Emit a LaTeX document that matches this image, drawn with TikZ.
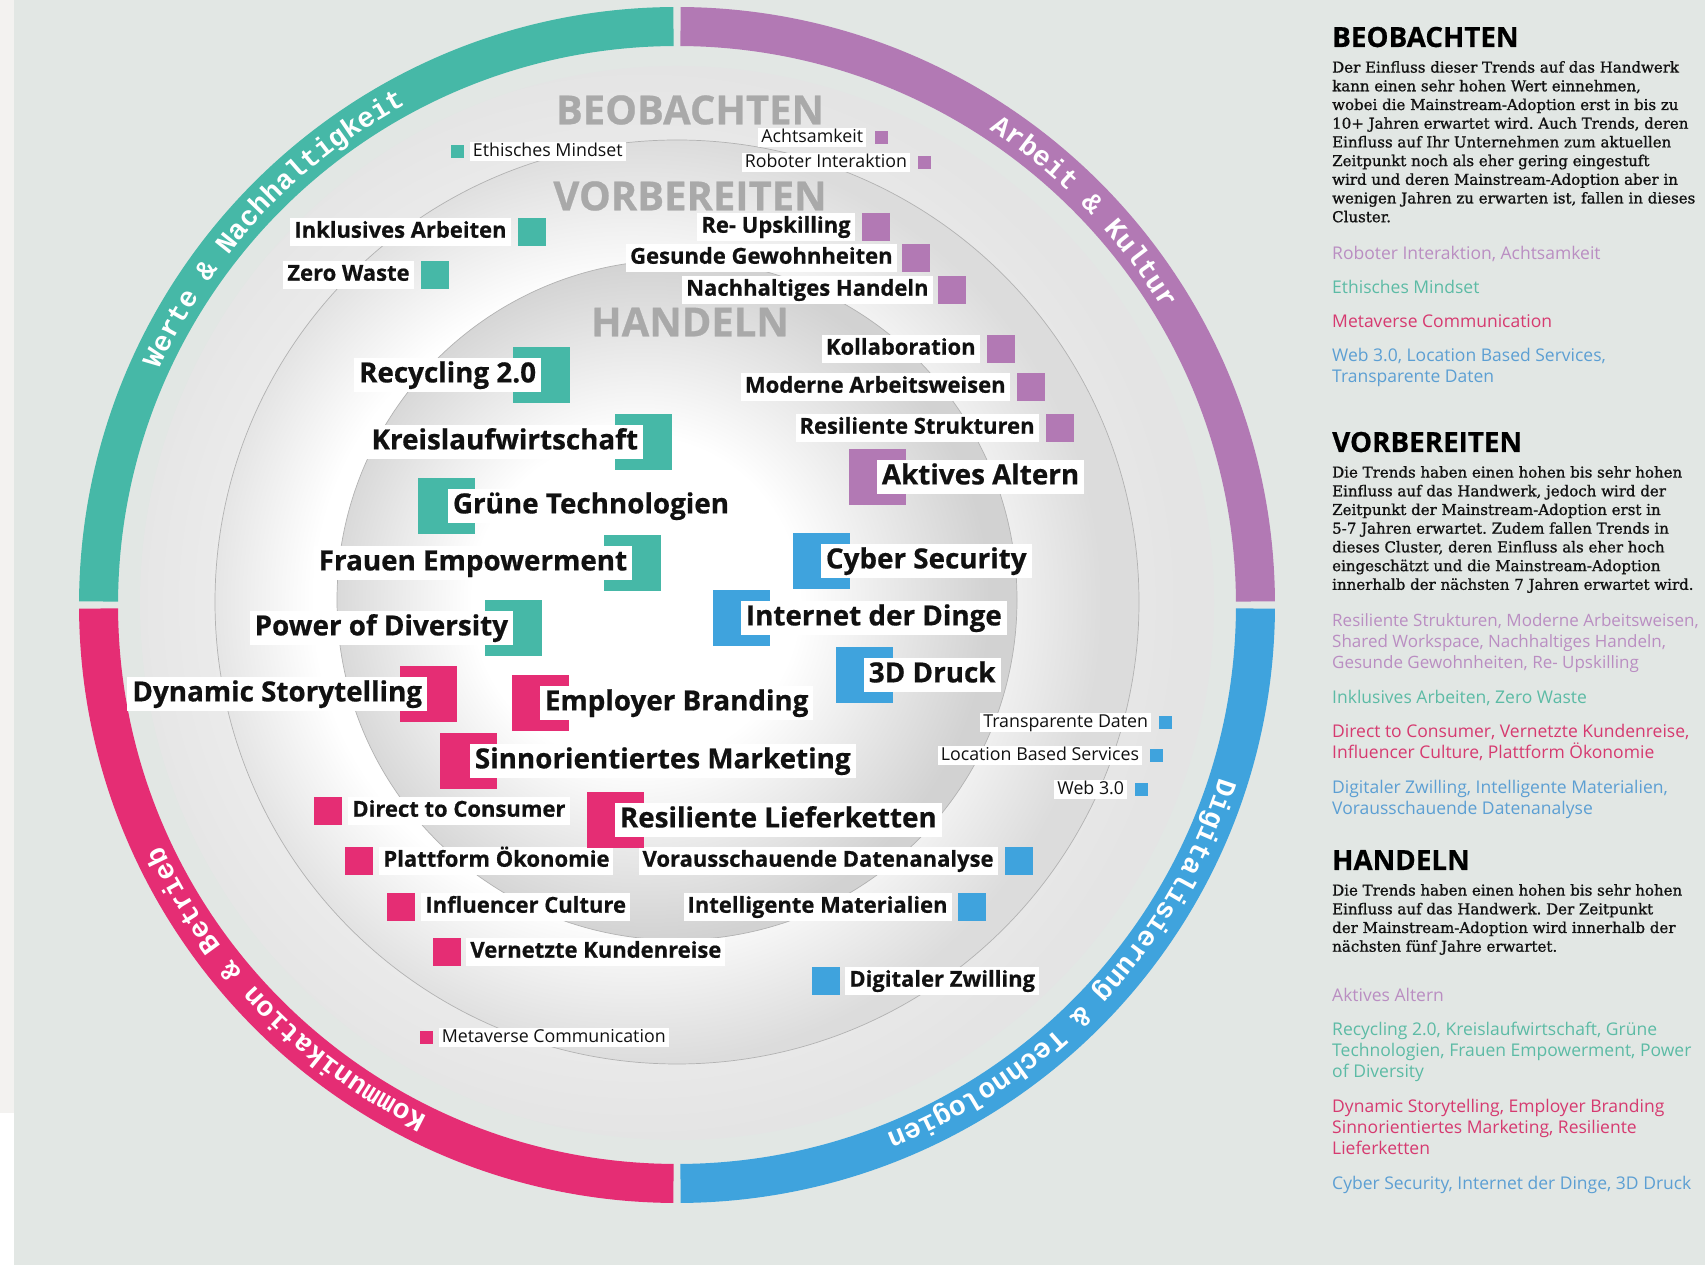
\documentclass[tikz,border=0pt]{standalone}
\usepackage{fontspec}
\setmainfont{Open Sans}
\newfontfamily\heavysans[BoldFeatures={FakeBold=0.6}]{Open Sans}
\newfontfamily\bodyserif[FakeBold=1]{DejaVu Serif}
\newfontfamily\ringmono{Liberation Mono}
\usetikzlibrary{positioning,decorations.text}
\frenchspacing

\definecolor{bgc}{HTML}{E2E7E4}
\definecolor{stripc}{HTML}{F3F2F0}
\definecolor{cgreen}{HTML}{46B8A7}
\definecolor{cviolet}{HTML}{B279B4}
\definecolor{cpink}{HTML}{E52D74}
\definecolor{cblue}{HTML}{3FA3DD}
\definecolor{lgreen}{HTML}{5CBBA5}
\definecolor{lviolet}{HTML}{BA8EC2}
\definecolor{lpink}{HTML}{D63A70}
\definecolor{lblue}{HTML}{5C9FD3}
\definecolor{inkc}{HTML}{111111}
\definecolor{headgray}{HTML}{A9A9A9}
\definecolor{rimB}{HTML}{E4E4E4}
\definecolor{midB}{HTML}{EDEDED}
\definecolor{rimV}{HTML}{DCDCDC}
\definecolor{rimH}{HTML}{D2D2D2}

\pgfdeclareradialshading{beobshade}{\pgfpoint{-3bp}{0bp}}{color(0bp)=(white); color(18bp)=(midB); color(25bp)=(rimB); color(50bp)=(rimB)}
\pgfdeclareradialshading{vorbshade}{\pgfpoint{-4bp}{0bp}}{color(0bp)=(white); color(17bp)=(white); color(25bp)=(rimV); color(50bp)=(rimV)}
\pgfdeclareradialshading{handshade}{\pgfpoint{-4bp}{0bp}}{color(0bp)=(white); color(12bp)=(white); color(25bp)=(rimH); color(50bp)=(rimH)}

\newcommand{\ringfont}{\ringmono\bfseries\fontsize{28}{28}\selectfont}

\begin{document}
\begin{tikzpicture}[x=1pt,y=1pt,
lblbig/.style={fill=white,inner xsep=5pt,inner ysep=3pt,text height=21.5pt,text depth=6.7pt,font=\heavysans\bfseries\fontsize{27.8}{30}\selectfont,text=inkc},
lblmid/.style={fill=white,inner xsep=4pt,inner ysep=2.9pt,text height=16.8pt,text depth=5.3pt,font=\heavysans\bfseries\fontsize{22}{24}\selectfont,text=inkc},
lblsmall/.style={fill=white,inner xsep=3pt,inner ysep=0.6pt,text height=13.5pt,text depth=4.3pt,font=\fontsize{17.8}{20}\selectfont,text=inkc},
brk/.style={minimum width=57pt,minimum height=56pt,inner sep=0pt,fill=#1},
sqmid/.style={minimum size=28pt,inner sep=0pt,fill=#1},
sqsmall/.style={minimum size=13pt,inner sep=0pt,fill=#1},
zone/.style={text=headgray,inner sep=0pt,font=\heavysans\bfseries\fontsize{40}{40}\selectfont},
ringline/.style={draw=gray!60,line width=0.7pt},
ringtext/.style={decorate,decoration={text along path,text align=center,text color=white,text={|\ringfont|#1}}},
panelhead/.style={anchor=base west,inner sep=0pt,font=\heavysans\bfseries\fontsize{27.8}{27}\selectfont,text=black},
panelbody/.style={anchor=north west,inner sep=0pt,align=left,font=\bodyserif\fontsize{15}{18.7}\selectfont,text=inkc},
panellist/.style={anchor=north west,inner sep=0pt,align=left,font=\fontsize{17.5}{21}\selectfont,text=#1}
]
\useasboundingbox (0,0) rectangle (1705,1265);
\fill[bgc] (0,0) rectangle (1705,1265);
\fill[stripc] (0,152) rectangle (14,1265);
\fill[white] (0,0) rectangle (14,152);

\coordinate (c) at (677,660);
\coordinate (cb) at (677,662);
\coordinate (cv) at (677,663);
\coordinate (ch) at (677,665);

% zones
\shade[shading=beobshade] (cb) circle[radius=537];
\shade[shading=vorbshade] (cv) circle[radius=462];
\draw[ringline] (cv) circle[radius=462];
\shade[shading=handshade] (ch) circle[radius=340];
\draw[ringline] (ch) circle[radius=340];

% outer ring
\draw[cviolet,line width=39pt] ([shift={(0.35:578.5)}]c) arc[start angle=0.35,end angle=89.65,radius=578.5];
\draw[cgreen,line width=39pt] ([shift={(90.35:578.5)}]c) arc[start angle=90.35,end angle=179.65,radius=578.5];
\draw[cpink,line width=39pt] ([shift={(180.35:578.5)}]c) arc[start angle=180.35,end angle=269.65,radius=578.5];
\draw[cblue,line width=39pt] ([shift={(270.35:578.5)}]c) arc[start angle=270.35,end angle=359.65,radius=578.5];

\path[ringtext={Werte {\&} Nachhaltigkeit}] ([shift={(175:569)}]c) arc[start angle=175,end angle=99,radius=569];
\path[ringtext={Arbeit {\&} Kultur}] ([shift={(82:569)}]c) arc[start angle=82,end angle=6,radius=569];
\path[ringtext={Digitalisierung {\&} Technologien}] ([shift={(-3:569)}]c) arc[start angle=-3,end angle=-83,radius=569];
\path[ringtext={Kommunikation {\&} Betrieb}] ([shift={(264:569)}]c) arc[start angle=264,end angle=185,radius=569];

\node[zone] (z-beob) at (690,1155) {BEOBACHTEN};
\node[zone] (z-vorb) at (690,1069) {VORBEREITEN};
\node[zone] (z-hand) at (690,943) {HANDELN};

% beobachten
\node[sqsmall=cgreen] (sq-ethi) at (457,1113) {};
\node[lblsmall,right=6pt of sq-ethi] (ethi) {Ethisches Mindset};
\node[sqsmall=cviolet] (sq-acht) at (881,1127) {};
\node[lblsmall,left=8pt of sq-acht] (acht) {Achtsamkeit};
\node[sqsmall=cviolet] (sq-robo) at (924,1102) {};
\node[lblsmall,left=7pt of sq-robo] (robo) {Roboter Interaktion};
\node[sqsmall=cblue] (sq-tran) at (1165,542) {};
\node[lblsmall,left=7pt of sq-tran] (tran) {Transparente Daten};
\node[sqsmall=cblue] (sq-loca) at (1156,509) {};
\node[lblsmall,left=7pt of sq-loca] (loca) {Location Based Services};
\node[sqsmall=cblue] (sq-web) at (1141,475) {};
\node[lblsmall,left=7pt of sq-web] (web) {Web 3.0};
\node[sqsmall=cpink] (sq-meta) at (426,227) {};
\node[lblsmall,right=6pt of sq-meta] (meta) {Metaverse Communication};

% vorbereiten
\node[sqmid=cgreen] (sq-inkl) at (532,1033) {};
\node[lblmid,left=7pt of sq-inkl] (inkl) {Inklusives Arbeiten};
\node[sqmid=cgreen] (sq-zero) at (435,990) {};
\node[lblmid,left=7pt of sq-zero] (zero) {Zero Waste};
\node[sqmid=cviolet] (sq-reup) at (876,1038) {};
\node[lblmid,left=7pt of sq-reup] (reup) {Re- Upskilling};
\node[sqmid=cviolet] (sq-gesu) at (916,1007) {};
\node[lblmid,left=5pt of sq-gesu] (gesu) {Gesunde Gewohnheiten};
\node[sqmid=cviolet] (sq-nach) at (952,975) {};
\node[lblmid,left=5pt of sq-nach] (nach) {Nachhaltiges Handeln};
\node[sqmid=cviolet] (sq-koll) at (1001,916) {};
\node[lblmid,left=7pt of sq-koll] (koll) {Kollaboration};
\node[sqmid=cviolet] (sq-mode) at (1031,878) {};
\node[lblmid,left=7pt of sq-mode] (mode) {Moderne Arbeitsweisen};
\node[sqmid=cviolet] (sq-resi) at (1060,837) {};
\node[lblmid,left=7pt of sq-resi] (resi) {Resiliente Strukturen};
\node[sqmid=cpink] (sq-dire) at (328,454) {};
\node[lblmid,right=6pt of sq-dire] (dire) {Direct to Consumer};
\node[sqmid=cpink] (sq-plat) at (359,404) {};
\node[lblmid,right=6pt of sq-plat] (plat) {Plattform Ökonomie};
\node[sqmid=cpink] (sq-infl) at (401,358) {};
\node[lblmid,right=6pt of sq-infl] (infl) {Influencer Culture};
\node[sqmid=cpink] (sq-vern) at (447,313) {};
\node[lblmid,right=5pt of sq-vern] (vern) {Vernetzte Kundenreise};
\node[sqmid=cblue] (sq-vora) at (1019,404) {};
\node[lblmid,left=7pt of sq-vora] (vora) {Vorausschauende Datenanalyse};
\node[sqmid=cblue] (sq-inte) at (972,358) {};
\node[lblmid,left=6pt of sq-inte] (inte) {Intelligente Materialien};
\node[sqmid=cblue] (sq-digi) at (826,284) {};
\node[lblmid,right=5pt of sq-digi] (digi) {Digitaler Zwilling};

% handeln
\node[brk=cgreen] (br-recy) at (541,890) {};
\node[lblbig,left=-29pt of br-recy] (recy) {Recycling 2.0};
\node[brk=cgreen] (br-krei) at (643,823) {};
\node[lblbig,left=-29pt of br-krei] (krei) {Kreislaufwirtschaft};
\node[brk=cgreen] (br-grue) at (446,759) {};
\node[lblbig,right=-27pt of br-grue] (grue) {Grüne Technologien};
\node[brk=cgreen] (br-frau) at (632,702) {};
\node[lblbig,left=-29pt of br-frau] (frau) {Frauen Empowerment};
\node[brk=cgreen] (br-powe) at (513,637) {};
\node[lblbig,left=-29pt of br-powe] (powe) {Power of Diversity};
\node[brk=cpink] (br-dyna) at (428,571) {};
\node[lblbig,left=-28pt of br-dyna] (dyna) {Dynamic Storytelling};
\node[brk=cpink] (br-empl) at (540,562) {};
\node[lblbig,right=-29pt of br-empl] (empl) {Employer Branding};
\node[brk=cpink] (br-sinn) at (468,504) {};
\node[lblbig,right=-27pt of br-sinn] (sinn) {Sinnorientiertes Marketing};
\node[brk=cpink] (br-resl) at (615,445) {};
\node[lblbig,right=-29pt of br-resl] (resl) {Resiliente Lieferketten};
\node[brk=cviolet] (br-akti) at (877,788) {};
\node[lblbig,right=-29pt of br-akti] (akti) {Aktives Altern};
\node[brk=cblue] (br-cybe) at (821,704) {};
\node[lblbig,right=-29pt of br-cybe] (cybe) {Cyber Security};
\node[brk=cblue] (br-inet) at (741,647) {};
\node[lblbig,right=-29pt of br-inet] (inet) {Internet der Dinge};
\node[brk=cblue] (br-druc) at (864,590) {};
\node[lblbig,right=-29pt of br-druc] (druc) {3D Druck};

% side panel
\node[panelhead] (h-beob) at (1332,1218) {BEOBACHTEN};
\node[panelbody] (t-beob) at (1332,1204) {Der Einfluss dieser Trends auf das Handwerk\\kann einen sehr hohen Wert einnehmen,\\wobei die Mainstream-Adoption erst in bis zu\\10+ Jahren erwartet wird. Auch Trends, deren\\Einfluss auf Ihr Unternehmen zum aktuellen\\Zeitpunkt noch als eher gering eingestuft\\wird und deren Mainstream-Adoption aber in\\wenigen Jahren zu erwarten ist, fallen in dieses\\Cluster.};
\node[panellist=lviolet] (l-beob-v) at (1332,1019) {Roboter Interaktion, Achtsamkeit};
\node[panellist=lgreen] (l-beob-g) at (1332,985) {Ethisches Mindset};
\node[panellist=lpink] (l-beob-p) at (1332,951) {Metaverse Communication};
\node[panellist=lblue] (l-beob-b) at (1332,917) {Web 3.0, Location Based Services,\\Transparente Daten};

\node[panelhead] (h-vorb) at (1332,813) {VORBEREITEN};
\node[panelbody] (t-vorb) at (1332,799) {Die Trends haben einen hohen bis sehr hohen\\Einfluss auf das Handwerk, jedoch wird der\\Zeitpunkt der Mainstream-Adoption erst in\\5-7 Jahren erwartet. Zudem fallen Trends in\\dieses Cluster, deren Einfluss als eher hoch\\eingeschätzt und die Mainstream-Adoption\\innerhalb der nächsten 7 Jahren erwartet wird.};
\node[panellist=lviolet,font=\fontsize{17}{21}\selectfont] (l-vorb-v) at (1332,652) {Resiliente Strukturen, Moderne Arbeitsweisen,\\Shared Workspace, Nachhaltiges Handeln,\\Gesunde Gewohnheiten, Re- Upskilling};
\node[panellist=lgreen] (l-vorb-g) at (1332,575) {Inklusives Arbeiten, Zero Waste};
\node[panellist=lpink] (l-vorb-p) at (1332,541) {Direct to Consumer, Vernetzte Kundenreise,\\Influencer Culture, Plattform Ökonomie};
\node[panellist=lblue] (l-vorb-b) at (1332,485) {Digitaler Zwilling, Intelligente Materialien,\\Vorausschauende Datenanalyse};

\node[panelhead] (h-hand) at (1332,395) {HANDELN};
\node[panelbody] (t-hand) at (1332,381) {Die Trends haben einen hohen bis sehr hohen\\Einfluss auf das Handwerk. Der Zeitpunkt\\der Mainstream-Adoption wird innerhalb der\\nächsten fünf Jahre erwartet.};
\node[panellist=lviolet] (l-hand-v) at (1332,277) {Aktives Altern};
\node[panellist=lgreen] (l-hand-g) at (1332,243) {Recycling 2.0, Kreislaufwirtschaft, Grüne\\Technologien, Frauen Empowerment, Power\\of Diversity};
\node[panellist=lpink] (l-hand-p) at (1332,166) {Dynamic Storytelling, Employer Branding\\Sinnorientiertes Marketing, Resiliente\\Lieferketten};
\node[panellist=lblue] (l-hand-b) at (1332,89) {Cyber Security, Internet der Dinge, 3D Druck};
\end{tikzpicture}
\end{document}
